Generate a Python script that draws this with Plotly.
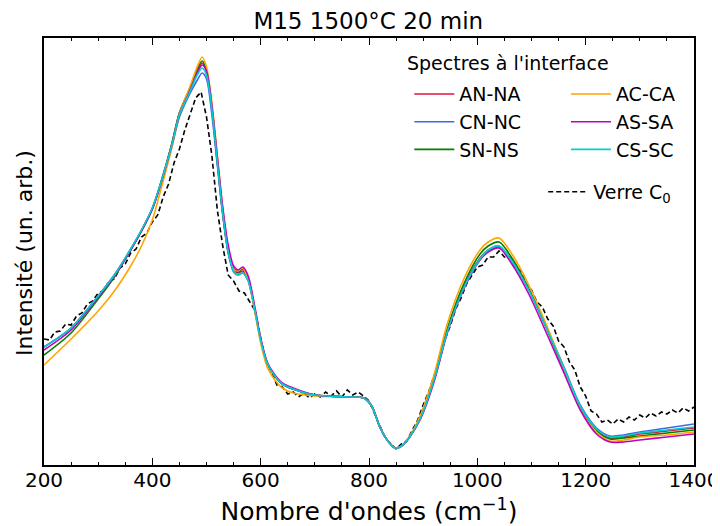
import plotly.graph_objects as go

# nombre d'ondes (cm-1) pour les spectres a l'interface
wn = [200, 250, 300, 330, 360, 380, 400, 415, 435, 450, 470, 482, 492, 500, 510, 520,
      530, 540, 550, 558, 567, 577, 590, 600, 612, 625, 640, 660, 700, 760, 790, 805,
      820, 835, 848, 860, 875, 895, 920, 945, 975, 1005, 1020, 1040, 1065, 1095, 1130,
      1160, 1190, 1220, 1245, 1270, 1300, 1350, 1400]

an_na = [11.8, 13.7, 16.9, 19.0, 21.6, 23.5, 25.7, 28.1, 31.9, 35.2, 37.7, 39.3, 40.2, 39.3, 35.5, 30.2,
         25.1, 21.3, 19.5, 19.2, 19.4, 18.5, 15.3, 12.5, 10.2, 9.0, 8.1, 7.6, 7.0, 6.8, 6.7, 5.9,
         3.8, 2.4, 1.7, 1.9, 2.8, 4.7, 8.5, 13.5, 17.8, 20.7, 21.5, 21.9, 20.3, 17.5, 13.4,
         9.6, 5.8, 3.5, 2.7, 2.8, 3.1, 3.4, 3.7]
cn_nc = [11.8, 13.7, 16.9, 19.0, 21.5, 23.4, 25.6, 28.0, 31.6, 34.8, 37.2, 38.4, 39.2, 38.6, 35.0, 30.0,
         25.0, 21.2, 19.3, 19.0, 19.2, 18.4, 15.2, 12.5, 10.2, 9.0, 8.1, 7.6, 7.0, 6.8, 6.7, 5.9,
         3.8, 2.4, 1.7, 1.9, 2.8, 4.7, 8.5, 13.4, 17.7, 20.6, 21.4, 21.8, 20.3, 17.6, 13.5,
         9.8, 6.0, 3.7, 2.9, 3.0, 3.3, 3.7, 4.1]
sn_ns = [11.0, 13.2, 16.6, 18.8, 21.5, 23.4, 25.6, 28.1, 31.9, 35.2, 37.8, 39.5, 40.4, 39.5, 35.8, 30.5,
         25.3, 21.4, 19.6, 19.3, 19.6, 18.6, 15.3, 12.5, 10.2, 9.0, 8.1, 7.6, 7.0, 6.8, 6.7, 5.9,
         3.8, 2.4, 1.7, 1.9, 2.8, 4.7, 8.6, 13.7, 18.1, 21.1, 21.9, 22.3, 20.6, 17.6, 13.4,
         9.5, 5.7, 3.4, 2.6, 2.7, 2.9, 3.2, 3.5]
ac_ca = [10.0, 12.6, 15.4, 17.4, 19.9, 21.9, 24.5, 27.4, 31.5, 35.1, 37.9, 39.7, 40.8, 39.8, 36.2, 31.0,
         25.6, 21.6, 19.6, 19.4, 19.7, 18.5, 15.1, 12.2, 9.8, 8.6, 7.7, 7.2, 6.9, 6.8, 6.7, 5.9,
         3.8, 2.4, 1.7, 1.9, 2.9, 5.0, 9.0, 14.2, 18.6, 21.5, 22.3, 22.7, 21.0, 18.0, 13.7,
         9.6, 5.6, 3.3, 2.4, 2.5, 2.8, 3.0, 3.3]
as_sa = [11.5, 13.5, 16.8, 18.9, 21.5, 23.4, 25.6, 28.0, 31.8, 35.0, 37.5, 39.1, 40.0, 39.4, 35.9, 30.8,
         25.8, 22.0, 19.9, 19.5, 19.8, 18.9, 15.6, 12.7, 10.3, 9.1, 8.2, 7.7, 7.0, 6.8, 6.7, 5.9,
         3.8, 2.4, 1.7, 1.9, 2.8, 4.6, 8.3, 13.3, 17.6, 20.5, 21.3, 21.7, 20.0, 17.1, 12.9,
         9.2, 5.5, 3.1, 2.3, 2.3, 2.5, 2.8, 3.1]
cs_sc = [11.8, 13.7, 16.9, 19.0, 21.6, 23.5, 25.7, 28.1, 31.8, 35.0, 37.4, 38.9, 39.7, 39.0, 35.5, 30.3,
         25.2, 21.3, 19.4, 19.0, 19.2, 18.4, 15.3, 12.5, 10.2, 9.0, 8.1, 7.6, 7.0, 6.8, 6.7, 5.9,
         3.8, 2.4, 1.7, 1.9, 2.8, 4.7, 8.5, 13.4, 17.7, 20.6, 21.5, 21.9, 20.3, 17.5, 13.4,
         9.7, 5.9, 3.6, 2.8, 2.9, 3.2, 3.5, 3.8]

# verre C0 (spectre brut, bruite)
wn_c0 = list(range(200, 1401, 10))
verre_c0 = [12.6, 12.5, 13.3, 13.4, 14.1, 14.0, 14.9, 15.2, 16.1, 16.4,
            17.2, 17.4, 18.4, 18.6, 19.7, 20.1, 21.2, 21.6, 22.8, 23.2,
            24.3, 25.0, 26.8, 28.1, 30.2, 31.6, 33.5, 35.0, 36.7, 37.3,
            34.8, 30.9, 25.5, 21.9, 19.0, 18.4, 17.4, 17.2, 16.3, 15.4,
            12.7, 10.3, 9.3, 8.0, 7.8, 7.1, 7.3, 6.8, 7.2, 6.7,
            7.1, 6.8, 7.3, 6.9, 7.4, 6.8, 7.5, 7.0, 7.3, 6.9,
            6.4, 5.2, 3.9, 2.7, 2.1, 1.6, 2.1, 2.4, 3.5, 4.5,
            6.0, 7.3, 8.9, 10.4, 12.5, 13.9, 15.6, 16.7, 18.1, 18.9,
            19.8, 20.0, 20.8, 20.8, 21.4, 20.8, 20.8, 19.8, 19.4, 18.1,
            17.5, 16.3, 15.8, 14.6, 13.9, 12.4, 11.8, 10.3, 9.5, 7.8,
            6.9, 5.4, 5.1, 4.3, 4.5, 4.1, 4.6, 4.3, 4.8, 4.5,
            5.0, 4.7, 5.2, 4.9, 5.3, 5.1, 5.5, 5.2, 5.7, 5.4, 5.8]

col1 = [("AN-NA", an_na, "crimson"), ("CN-NC", cn_nc, "royalblue"), ("SN-NS", sn_ns, "green")]
col2 = [("AC-CA", ac_ca, "orange"), ("AS-SA", as_sa, "#c000c0"), ("CS-SC", cs_sc, "darkturquoise")]

font = "DejaVu Sans"
fig = go.Figure()

# courbe de reference en pointilles
fig.add_trace(go.Scatter(x=wn_c0, y=verre_c0, mode="lines", name="Verre C<sub>0</sub>",
                         line=dict(color="black", width=1.6, dash="5px,3px"), legend="legend3"))

for name, vals, col in col1:
    fig.add_trace(go.Scatter(x=wn, y=vals, mode="lines", name=name, legend="legend",
                             line=dict(color=col, width=1.6, shape="spline", smoothing=0.8)))
for name, vals, col in col2:
    fig.add_trace(go.Scatter(x=wn, y=vals, mode="lines", name=name, legend="legend2",
                             line=dict(color=col, width=1.6, shape="spline", smoothing=0.8)))

leg_common = dict(bgcolor="rgba(0,0,0,0)", font=dict(family=font, size=19, color="black"),
                  xanchor="left", yanchor="top", tracegroupgap=0, itemwidth=40)

# la page html a une marge de 8 px : la figure est reduite d'autant
fig.update_layout(
    width=712, height=518,
    margin=dict(l=36, r=26, t=30, b=61),
    plot_bgcolor="white", paper_bgcolor="white",
    font=dict(family=font, color="black"),
    title=dict(text="M15 1500°C 20 min", x=0.506, xanchor="center", y=0.975, yanchor="middle",
               font=dict(family=font, size=23, color="black")),
    legend=dict(x=0.562, y=0.913, **leg_common),
    legend2=dict(x=0.803, y=0.913, **leg_common),
    legend3=dict(x=0.768, y=0.684, **leg_common),
    showlegend=True,
    annotations=[
        dict(text="Spectres à l'interface", xref="paper", yref="paper",
             x=0.555, y=0.941, xanchor="left", yanchor="middle", showarrow=False,
             font=dict(family=font, size=19, color="black")),
        dict(text="Intensité (un. arb.)", xref="paper", yref="paper", textangle=-90,
             x=-0.029, y=0.497, xanchor="center", yanchor="middle", showarrow=False,
             font=dict(family=font, size=22, color="black")),
    ],
)

fig.update_xaxes(
    range=[200, 1400], dtick=200, tick0=200,
    ticks="inside", ticklen=7, tickwidth=1.2, tickcolor="black",
    minor=dict(dtick=50, ticks="inside", ticklen=3.5, tickwidth=1, tickcolor="black"),
    showline=True, linecolor="black", linewidth=1.5, mirror="allticks",
    showgrid=False, zeroline=False, automargin=False, ticklabelstandoff=-4,
    tickfont=dict(family=font, size=20, color="black"),
    title=dict(text="Nombre d'ondes (cm<sup>−1</sup>)", font=dict(family=font, size=25), standoff=12),
)
fig.update_yaxes(
    range=[0, 42.7], showticklabels=False, ticks="",
    showline=True, linecolor="black", linewidth=1.5, mirror=True,
    showgrid=False, zeroline=False, automargin=False,
)

fig.write_html("out.html")
